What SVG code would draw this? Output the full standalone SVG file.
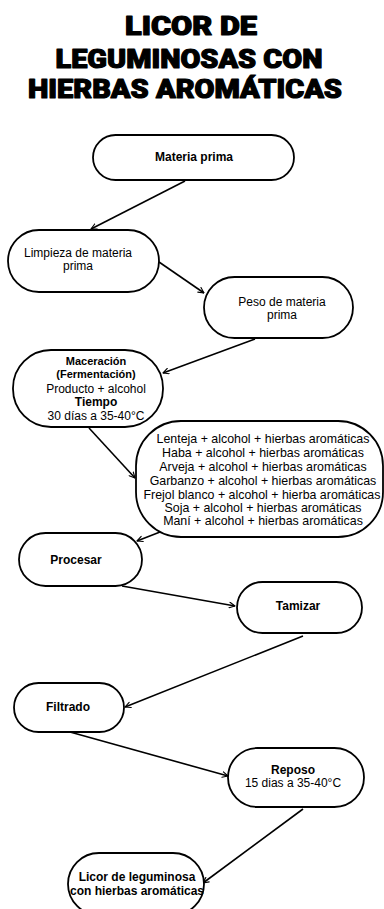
<svg xmlns="http://www.w3.org/2000/svg" width="384" height="909" viewBox="0 0 384 909">
  <defs>
    <marker id="arrow" viewBox="0 0 10 10" refX="9" refY="5" markerWidth="7" markerHeight="7" markerUnits="userSpaceOnUse" orient="auto">
      <path d="M1,1 L9,5 L1,9" fill="none" stroke="#000" stroke-width="1.6" stroke-linecap="round" stroke-linejoin="round"/>
    </marker>
  </defs>
  <style>
    .title { font-family: Roboto, "Liberation Sans", sans-serif; font-weight: 900; font-size: 25px; fill: #000; stroke: #000; stroke-width: 1.1; stroke-linejoin: round; text-anchor: middle; }
    .node rect { fill: #fff; stroke: #000; stroke-width: 1.8; }
    .node text { font-family: "Liberation Sans", Arial, sans-serif; font-size: 12px; fill: #000; text-anchor: middle; }
    .node .b { font-weight: bold; }
    .node .s { font-size: 11px; }
    .node .list { font-size: 12.4px; }
    .edges line { stroke: #000; stroke-width: 1.6; fill: none; marker-end: url(#arrow); }
  </style>
  <rect width="384" height="909" fill="#fff"/>

  <!-- heading -->
  <g id="title">
    <text class="title" x="191" y="35" textLength="132" lengthAdjust="spacingAndGlyphs">LICOR DE</text>
    <text class="title" x="189" y="68" textLength="267" lengthAdjust="spacingAndGlyphs">LEGUMINOSAS CON</text>
    <text class="title" x="185" y="98" textLength="314" lengthAdjust="spacingAndGlyphs">HIERBAS AROMÁTICAS</text>
  </g>

  <!-- connectors -->
  <g class="edges">
    <line x1="185" y1="181" x2="91" y2="229"/>
    <line x1="159" y1="262" x2="204" y2="293"/>
    <line x1="255" y1="339" x2="163" y2="373"/>
    <line x1="89" y1="428" x2="135" y2="478"/>
    <line x1="160" y1="532" x2="137" y2="541"/>
    <line x1="122" y1="586" x2="235" y2="606"/>
    <line x1="303" y1="636" x2="125" y2="707"/>
    <line x1="70" y1="732" x2="228" y2="776"/>
    <line x1="303" y1="809" x2="203" y2="883"/>
  </g>

  <g id="materia-prima" class="node">
    <rect x="93" y="135" width="201" height="45" rx="22.5"/>
    <text class="b" x="194" y="161">Materia prima</text>
  </g>

  <g id="limpieza" class="node">
    <rect x="8" y="230" width="151" height="62" rx="31"/>
    <text x="78" y="257">Limpieza de materia</text>
    <text x="78" y="270">prima</text>
  </g>

  <g id="peso" class="node">
    <rect x="204" y="277" width="149" height="61" rx="30.5"/>
    <text x="282" y="306">Peso de materia</text>
    <text x="282" y="319">prima</text>
  </g>

  <g id="maceracion" class="node">
    <rect x="13" y="350" width="150" height="77" rx="38"/>
    <text class="b s" x="96" y="365">Maceración</text>
    <text class="b s" x="96" y="378">(Fermentación)</text>
    <text x="96" y="393">Producto + alcohol</text>
    <text class="b" x="96" y="406">Tiempo</text>
    <text x="96" y="420">30 días a 35-40°C</text>
  </g>

  <g id="mezclas" class="node">
    <rect x="136" y="421" width="247" height="116" rx="45"/>
    <text class="list" x="263" y="443">Lenteja + alcohol + hierbas aromáticas</text>
    <text class="list" x="263" y="457">Haba + alcohol + hierbas aromáticas</text>
    <text class="list" x="263" y="471">Arveja + alcohol + hierbas aromáticas</text>
    <text class="list" x="263" y="485">Garbanzo + alcohol + hierbas aromáticas</text>
    <text class="list" x="262" y="499">Frejol blanco + alcohol + hierba aromáticas</text>
    <text class="list" x="263" y="512">Soja + alcohol + hierbas aromáticas</text>
    <text class="list" x="263" y="525">Maní + alcohol + hierbas aromáticas</text>
  </g>

  <g id="procesar" class="node">
    <rect x="19" y="533" width="123" height="53" rx="26.5"/>
    <text class="b" x="76" y="564">Procesar</text>
  </g>

  <g id="tamizar" class="node">
    <rect x="237" y="582" width="125" height="51" rx="25.5"/>
    <text class="b" x="298" y="610">Tamizar</text>
  </g>

  <g id="filtrado" class="node">
    <rect x="14" y="683" width="110" height="49" rx="24.5"/>
    <text class="b" x="68" y="711">Filtrado</text>
  </g>

  <g id="reposo" class="node">
    <rect x="228" y="748" width="136" height="59" rx="29.5"/>
    <text class="b" x="293" y="774">Reposo</text>
    <text x="293" y="787">15 dias a 35-40°C</text>
  </g>

  <g id="licor" class="node">
    <rect x="68" y="853" width="136" height="62" rx="31"/>
    <text class="b" x="137" y="881">Licor de leguminosa</text>
    <text class="b" x="137" y="895">con hierbas aromáticas</text>
  </g>
</svg>
